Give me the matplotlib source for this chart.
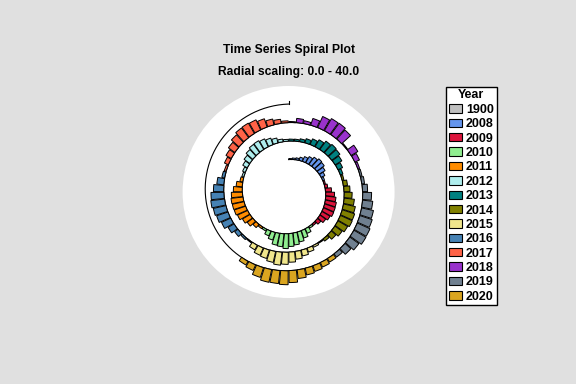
import numpy as np
import matplotlib
matplotlib.use('Agg')
import matplotlib.pyplot as plt
from matplotlib.patches import Patch

# ---------------------------------------------------------------
# data (monthly values)
years = ['1900', '2008', '2009', '2010', '2011', '2012', '2013',
         '2014', '2015', '2016', '2017', '2018', '2019', '2020']
year_colors = ['#c0c0c0', '#6495ed', '#dc143c', '#90ee90', '#ff8c00', '#afeeee', '#008080',
               '#808000', '#f0e68c', '#4682b4', '#ff6347', '#9932cc', '#708090', '#daa520']

v2008 = [2, 3, 4, 7, 11, 15, 19, 22, 20, 15, 9, 4]
v2009 = [3, 6, 13, 19, 22, 24, 24, 24, 20, 15, 9, 4]
v2010 = [4, 11, 17, 22, 26, 28, 32, 28, 26, 17, 11, 4]
v2011 = [4, 9, 15, 19, 24, 26, 26, 26, 24, 19, 13, 6]
v2012 = [4, 6, 11, 15, 19, 22, 22, 19, 15, 11, 6, 4]
v2013 = [4, 4, 6, 9, 13, 17, 22, 24, 22, 17, 11, 6]
v2014 = [4, 9, 13, 17, 22, 26, 28, 28, 24, 19, 13, 6]
v2015 = [2, 4, 9, 13, 17, 22, 26, 28, 24, 19, 17, 11]
v2016 = [2, 4, 9, 15, 22, 26, 28, 30, 28, 22, 15, 6]
v2017 = [4, 9, 13, 17, 22, 26, 26, 24, 19, 13, 9, 4]
v2018 = [2, 9, 6, 15, 26, 30, 30, 26, 2, 17, 11, 4]
v2019 = [4, 6, 11, 19, 22, 26, 28, 30, 30, 24, 17, 9]
v2020 = [9, 11, 13, 15, 19, 26, 30, 28, 28, 22, 13, 9]

yearly = [v2008, v2009, v2010, v2011, v2012, v2013, v2014,
          v2015, v2016, v2017, v2018, v2019, v2020]

# spiral settings
per_rev = 60          # months per revolution
n_rev = 3
r_start = 70.0        # radius at start (radial units)
r_step = 40.0         # growth per revolution = radial scaling max
r_circle = 229.0

# ---------------------------------------------------------------
fig = plt.figure(figsize=(5.76, 3.84), dpi=100, facecolor='#e0e0e0')
tfont = dict(family='Liberation Sans', weight='bold', size=8.75)
lfont = dict(family='Liberation Sans', weight='bold', size=9)

fig.text(0.501, 1 - 50 / 384, 'Time Series Spiral Plot', ha='center', va='center', **tfont)
fig.text(0.501, 1 - 72 / 384, 'Radial scaling: 0.0 - 40.0', ha='center', va='center', **tfont)

w, h = 212 / 576, 212 / 384
ax = fig.add_axes([0.501 - w / 2, 0.5 - h / 2, w, h], projection='polar')
ax.set_facecolor('white')
ax.set_theta_zero_location('N')
ax.set_theta_direction(-1)
ax.set_ylim(0, r_circle)
ax.set_xticks([])
ax.set_yticks([])
ax.grid(False)
ax.spines['polar'].set_visible(False)

# baseline spiral
t = np.linspace(0, per_rev * n_rev, 1000)
theta = t / per_rev * 2 * np.pi
r_base = r_start + r_step * t / per_rev
ax.plot(theta, r_base, color='black', lw=0.8, zorder=1)
ax.plot([theta[-1], theta[-1]], [r_base[-1], r_base[-1] + 7], color='black', lw=0.8, zorder=1)

# bars
slot = 2 * np.pi / per_rev
for k, vals in enumerate(yearly):
    m = np.arange(12) + 12 * k + 0.5
    th = m * slot
    bottom = r_start + r_step * m / per_rev
    ax.bar(th, vals, width=slot * 0.9, bottom=bottom, color=year_colors[k + 1],
           edgecolor='black', linewidth=0.7, zorder=2)

# legend
handles = [Patch(facecolor=c, edgecolor='black', linewidth=0.8) for c in year_colors]
leg = fig.legend(handles, years, title='Year', loc='upper left',
                 bbox_to_anchor=(446 / 576, 1 - 87 / 384),
                 frameon=True, fancybox=False, edgecolor='black', framealpha=1,
                 borderpad=0.2, labelspacing=0.19, handlelength=1.1, handleheight=0.65,
                 handletextpad=0.3, borderaxespad=0,
                 prop=lfont, title_fontproperties=lfont)
leg.get_frame().set_linewidth(1.0)

fig.savefig('out.png', dpi=100, facecolor=fig.get_facecolor())
